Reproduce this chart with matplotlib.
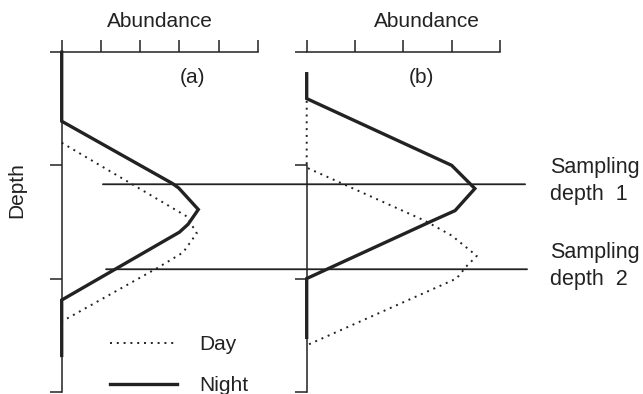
import matplotlib
matplotlib.use('Agg')
import matplotlib.pyplot as plt
from matplotlib.patches import ConnectionPatch
from matplotlib.lines import Line2D

plt.rcParams['font.family'] = ['Liberation Sans', 'DejaVu Sans']
plt.rcParams['font.size'] = 15

# Profili di abbondanza (a): profondita' e abbondanza
night_a_depth = [0.0, 0.61, 1.16, 1.20, 1.39, 1.52, 1.59, 2.19, 2.68]
night_a_abund = [0.0, 0.0, 2.82, 2.98, 3.48, 3.22, 3.0, 0.0, 0.0]
day_a_depth = [0.80, 1.45, 1.60, 1.77, 1.91, 2.38]
day_a_abund = [0.0, 3.18, 3.44, 3.09, 2.42, 0.0]

# Profili di abbondanza (b)
night_b_depth = [0.19, 0.41, 1.0, 1.205, 1.40, 1.49, 2.0, 2.52]
night_b_abund = [0.0, 0.0, 3.0, 3.48, 3.07, 2.60, 0.0, 0.0]
day_b_depth = [0.19, 1.02, 1.49, 1.62, 1.80, 1.89, 2.0, 2.59]
day_b_abund = [0.0, 0.0, 2.45, 3.0, 3.52, 3.31, 3.10, 0.0]

# Profondita' di campionamento e estensione delle linee
sampling_depth = [1.167, 1.918]
sampling_start_a = [1.05, 1.13]
sampling_end_b = [4.52, 4.56]
sampling_labels = ['Sampling\ndepth  1', 'Sampling\ndepth  2']

ink = '#222222'
fig = plt.figure(figsize=(6.43, 3.94), dpi=100)
W, H = 643.0, 394.0
top_px, bot_px = 52.2, 391.7
ax_a = fig.add_axes([61.7 / W, (H - bot_px) / H, 196.3 / W, (bot_px - top_px) / H])
ax_b = fig.add_axes([306.7 / W, (H - bot_px) / H, 193.3 / W, (bot_px - top_px) / H])

for ax, nmax in ((ax_a, 5), (ax_b, 4)):
    ax.set_xlim(0, nmax)
    ax.set_ylim(3, 0)
    ax.patch.set_visible(False)
    ax.xaxis.tick_top()
    ax.set_xticks(range(nmax + 1))
    ax.set_yticks([0, 1, 2, 3])
    ax.set_xticklabels([])
    ax.set_yticklabels([])
    ax.tick_params(direction='out', length=9, width=1.1, color=ink)
    ax.spines['right'].set_visible(False)
    ax.spines['bottom'].set_visible(False)
    for s in ('left', 'top'):
        ax.spines[s].set_linewidth(1.1)
        ax.spines[s].set_color(ink)
    ax.text(0.5 if ax is ax_a else 0.62, 1.0 + 31 / 339.5, 'Abundance',
            transform=ax.transAxes, ha='center', va='center', color=ink)

ax_b.spines['left'].set_bounds(1.0, 3)

# Disegna le curve
ax_a.plot(night_a_abund, night_a_depth, color=ink, lw=2.4, clip_on=False, solid_joinstyle='miter')
ax_a.plot(day_a_abund, day_a_depth, color=ink, lw=1.4, ls=(0, (1, 2.5)), clip_on=False)
ax_b.plot(night_b_abund, night_b_depth, color=ink, lw=2.4, clip_on=False, solid_joinstyle='miter')
ax_b.plot(day_b_abund, day_b_depth, color=ink, lw=1.4, ls=(0, (1, 2.5)), clip_on=False)

ax_a.text(3.32, 0.22, '(a)', ha='center', va='center', color=ink)
ax_b.text(2.37, 0.22, '(b)', ha='center', va='center', color=ink)

# Linee di campionamento che attraversano i due pannelli
for d, xs, xe, lab in zip(sampling_depth, sampling_start_a, sampling_end_b, sampling_labels):
    con = ConnectionPatch(xyA=(xs, d), coordsA=ax_a.transData,
                          xyB=(xe, d), coordsB=ax_b.transData,
                          color=ink, lw=1.3)
    fig.add_artist(con)
    ax_b.text(5.04, d - 0.03, lab, ha='left', va='center', color=ink,
              linespacing=1.4, fontsize=15.5)

fig.text(17 / W, 1 - 190 / H, 'Depth', rotation=90, ha='center', va='center', color=ink)

handles = [Line2D([], [], color=ink, lw=1.4, ls=(0, (1, 2.5))),
           Line2D([], [], color=ink, lw=2.4)]
ax_a.legend(handles, ['Day', 'Night'], loc='lower left', bbox_to_anchor=(0.246, -0.01),
            frameon=False, borderpad=0, borderaxespad=0, handlelength=3.2,
            handletextpad=1.1, labelspacing=1.05, labelcolor=ink)

fig.savefig('out.png', dpi=100)
